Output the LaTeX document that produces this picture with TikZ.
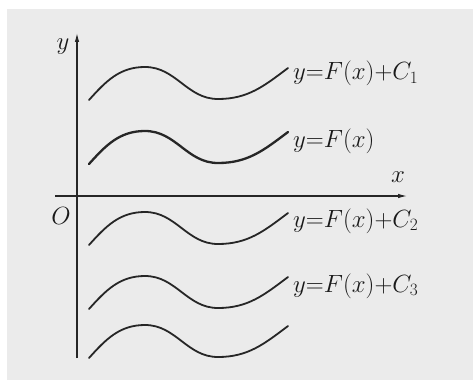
\documentclass[tikz,border=0pt]{standalone}
\usetikzlibrary{arrows.meta}
\begin{document}
\begin{tikzpicture}[x=1pt,y=1pt,
  axis/.style={line width=1.1pt,draw=black!85,-{Latex[length=9pt,width=4.5pt]}},
  wave/.style={draw=black!85,line cap=round},
  lbl/.style={inner sep=0pt,anchor=base west,text=black!90,font=\fontsize{23}{27}\selectfont},
  axlbl/.style={inner sep=0pt,text=black!90,font=\fontsize{23}{27}\selectfont}]
\useasboundingbox (0,0) rectangle (473,389);
\fill[black!8] (7,9) rectangle (473,380);
% axes
\coordinate (ys) at (77,31);
\coordinate (ye) at (77,356);
\coordinate (xs) at (55,193);
\coordinate (xe) at (407,193);
\draw[axis] (ys) -- (ye);
\draw[axis] (xs) -- (xe);
\node[axlbl] (ylab) at (63,342) {$y$};
\node[axlbl] (xlab) at (398,212) {$x$};
\node[axlbl] (olab) at (61,173) {$O$};
% waves
\foreach \d/\w in {0/1.8pt,64/2.3pt,145/1.8pt,209/1.8pt,258/1.8pt}{
  \draw[wave,line width=\w] (89,{289-\d}) to[out=48,in=180] (145,{322-\d})
     to[out=0,in=180] (218,{290-\d}) to[out=0,in=217] (288,{321-\d});
}
% labels
\node[lbl] (l1) at (293,309) {$y{=}F(x){+}C_1$};
\node[lbl] (l0) at (293,242) {$y{=}F(x)$};
\node[lbl] (l2) at (293,162) {$y{=}F(x){+}C_2$};
\node[lbl] (l3) at (293,97) {$y{=}F(x){+}C_3$};
\end{tikzpicture}
\end{document}
